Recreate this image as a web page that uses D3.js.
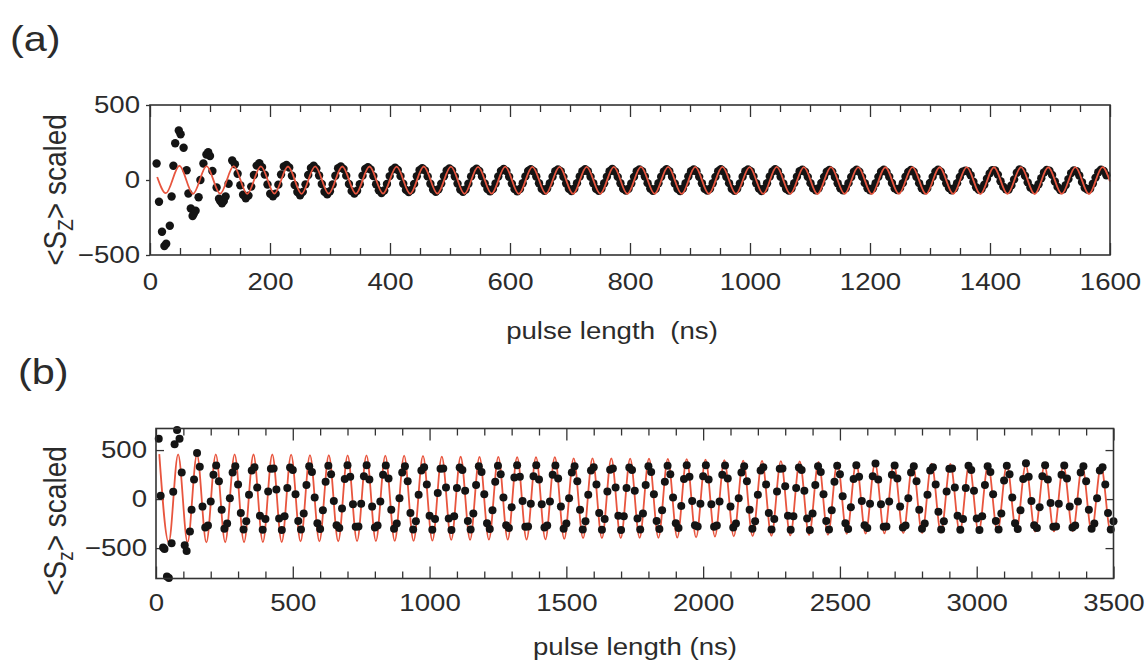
<!DOCTYPE html>
<html>
<head>
<meta charset="utf-8">
<title>Rabi oscillations</title>
<script src="https://cdn.jsdelivr.net/npm/d3@7"></script>
<style>
  body { margin: 0; background: #fff; }
  svg { display: block; }
  .lbl { font-family: "Liberation Sans", Arial, Helvetica, sans-serif; fill: #2b2b2b; }
</style>
</head>
<body>
<svg id="fig" width="1146" height="667"></svg>
<script>
// ---------- panel (a) ----------
const xTicksA = [0, 200, 400, 600, 800, 1000, 1200, 1400, 1600];
const yTicksA = [-500, 0, 500];

// first scattered points (ns, value)
const earlyTA = [11, 15, 20, 24, 27, 33, 36, 39, 42, 48, 51, 56, 61, 64, 68, 71, 73, 76, 81, 84,
                 89, 94, 97, 100, 104, 111, 115, 117, 120, 123, 126, 131];
const earlyVA = [110, -145, -345, -440, -425, -305, -110, 95, 245, 330, 305, 215, 65, -90, -190, -240, -225, -205, -115, 0,
                 110, 170, 185, 160, 60, -50, -125, -140, -155, -140, -110, -25];

// evenly sampled points after that
const dotsStartA = 137, dotsStepA = 4.525;
const dotsA = [
  130, 105, 42, -35, -98, -122, -104, -44, 33, 96,
  112, 86, 36, -30, -92, -108, -91, -31, 37, 90,
  101, 83, 28, -33, -80, -102, -79, -29, 33, 80,
  96, 76, 30, -27, -78, -96, -75, -30, 28, 78,
  90, 73, 29, -27, -74, -90, -72, -28, 29, 73,
  86, 70, 26, -28, -69, -87, -70, -27, 26, 69,
  82, 67, 26, -25, -66, -81, -67, -26, 25, 66,
  78, 64, 24, -25, -63, -79, -62, -24, 25, 63,
  77, 63, 23, -24, -64, -78, -63, -25, 24, 62,
  75, 61, 24, -23, -60, -76, -61, -23, 23, 61,
  74, 60, 22, -24, -61, -75, -60, -22, 24, 60,
  72, 58, 23, -22, -59, -72, -57, -22, 22, 59,
  71, 59, 21, -23, -58, -73, -58, -21, 23, 58,
  72, 58, 22, -22, -58, -72, -59, -22, 22, 58,
  73, 57, 21, -22, -59, -71, -58, -23, 21, 59,
  71, 58, 23, -21, -57, -72, -58, -22, 22, 57,
  72, 59, 22, -23, -58, -73, -57, -21, 23, 58,
  70, 58, 21, -22, -59, -71, -58, -22, 21, 59,
  72, 57, 22, -21, -58, -72, -59, -23, 22, 58,
  71, 58, 23, -22, -57, -73, -58, -22, 23, 57,
  72, 59, 22, -23, -58, -71, -57, -21, 22, 58,
  68, 55, 21, -21, -56, -68, -55, -20, 21, 55,
  67, 56, 20, -22, -55, -69, -56, -21, 20, 56,
  68, 55, 21, -21, -55, -68, -55, -22, 21, 55,
  69, 54, 22, -20, -56, -67, -54, -21, 22, 54,
  67, 55, 21, -21, -55, -68, -56, -20, 21, 56,
  68, 56, 20, -22, -54, -69, -55, -21, 20, 55,
  62, 58, 32, -12, -48, -66, -60, -32, 8, 44,
  66, 64, 36, -8, -44, -62, -64, -36, 4, 48,
  70, 60, 28, -16, -50, -64, -56, -28, 12, 50,
  67, 62, 34, -10, -46, -67, -62, -34, 6, 46,
  64, 58, 30, -14, -52, -64, -58, -24, 16, 52,
  68, 61, 32
];

// fit curve: start point, successive extrema (every half period), end point
const fitStartA = [12, 20], fitEndA = [1600, -10];
const fitT0A = 26.4, fitHalfA = 22.625;
const fitExtA = [
  -88, 95, -92, 93, -91, 92, -92, 91, -91, 90,
  -92, 91, -91, 90, -92, 90, -91, 89, -92, 90,
  -91, 89, -92, 88, -91, 89, -93, 88, -92, 88,
  -93, 88, -92, 87, -93, 88, -92, 87, -93, 87,
  -92, 87, -93, 86, -93, 87, -93, 86, -94, 86,
  -93, 86, -94, 85, -93, 86, -94, 85, -93, 86,
  -94, 85, -93, 86, -94, 85, -93, 86, -94, 86
];

// ---------- panel (b) ----------
const xTicksB = [0, 500, 1000, 1500, 2000, 2500, 3000, 3500];
const yTicksB = [-500, 0, 500];

const earlyTB = [10, 17, 26, 31, 40, 47, 57, 63, 68, 77, 86, 94, 105, 112, 124, 130, 139, 150];
const earlyVB = [615, 35, -495, -510, -790, -805, -450, 75, 560, 705, 615, 270, -470, -530, -330, -110, 200, 470];

const dotsStartB = 160, dotsStepB = 10;
const dotsB = [
  330, -76, -291, -269, -25, 249, 342,
  181, -109, -303, -249, 9, 272, 336,
  149, -141, -310, -227, 44, 292, 326,
  117, -170, -314, -202, 78, 310, 313,
  98, -198, -315, -175, 112, 323, 296,
  50, -223, -311, -146, 144, 334, 276,
  15, -246, -304, -114, 176, 341, 253,
  -20, -266, -294, -95, 205, 345, 228,
  -53, -282, -280, -48, 232, 344, 201,
  -76, -291, -269, -25, 249, 342, 209,
  -109, -303, -249, 9, 272, 336, 181,
  -141, -310, -227, 44, 292, 326, 149,
  -170, -314, -202, 62, 310, 313, 117,
  -198, -315, -175, 112, 323, 296, 84,
  -223, -311, -146, 144, 334, 276, 50,
  -246, -304, -114, 176, 341, 253, 15,
  -266, -294, -82, 220, 345, 228, -20,
  -282, -280, -48, 232, 344, 201, -53,
  -291, -269, -25, 249, 342, 209, -76,
  -303, -249, 9, 272, 336, 181, -109,
  -310, -227, 44, 292, 326, 149, -141,
  -314, -202, 78, 298, 313, 117, -170,
  -315, -175, 112, 323, 296, 84, -198,
  -311, -146, 144, 334, 276, 50, -223,
  -304, -114, 176, 341, 253, 15, -246,
  -294, -70, 205, 345, 228, -20, -266,
  -280, -48, 232, 344, 201, -53, -282,
  -269, -25, 249, 342, 209, -76, -291,
  -249, 9, 272, 336, 181, -109, -303,
  -227, 44, 292, 326, 149, -141, -310,
  -202, 78, 310, 313, 130, -170, -314,
  -175, 112, 323, 296, 84, -198, -315,
  -146, 144, 334, 276, 50, -223, -311,
  -114, 176, 341, 253, 30, -246, -304,
  -82, 205, 345, 228, -20, -266, -294,
  -48, 232, 362, 201, -53, -282, -280,
  -25, 249, 342, 209, -76, -291, -269,
  9, 272, 336, 181, -109, -303, -249,
  44, 292, 326, 149, -128, -310, -227,
  78, 310, 313, 117, -170, -314, -202,
  112, 340, 296, 84, -198, -315, -175,
  144, 334, 276, 50, -223, -311, -146,
  190, 341, 253, 15, -246, -304, -114,
  205, 366, 228, -20, -266, -294, -82,
  232, 344, 201, -40, -282, -280, -48,
  249, 342, 209, -76, -291, -269, -25,
  272, 336, 181, -109, -303, -249, 9,
  292, 326, 149, -141, -310, -227
];

const fitT0B = 12, fitHalfB = 34.425;
const fitExtB = [
  458, -442, 457, -441, 457, -441, 456, -440, 456, -440, 455, -439, 455, -438, 453,
  -432, 448, -431, 447, -430, 446, -429, 445, -428, 444, -427, 443, -426, 441, -424,
  433, -416, 432, -415, 431, -414, 430, -413, 429, -412, 428, -411, 427, -406,
  416, -399, 415, -398, 414, -397, 413, -396, 412, -395, 410, -393, 408, -391, 403,
  -382, 396, -380, 393, -377, 390, -374, 387, -371, 384, -368, 380, -364, 373,
  -354, 369, -352, 367, -350, 365, -348, 363, -346, 361, -343, 358, -340, 356, -337,
  350, -334, 349, -333, 348, -331, 346, -330, 344, -328, 342, -327, 340, -322
];
const fitEndB = [3500, -300];

// ---------- drawing ----------
const svg = d3.select('#fig');
const SX = 1.15; // lettering in the original is a bit wider than Arial

function label(parent, x, y, str, size, anchor) {
  return parent.append('text').attr('class', 'lbl')
    .attr('font-size', size).attr('text-anchor', anchor)
    .style('white-space', 'pre')
    .attr('transform', `translate(${x},${y}) scale(${SX},1)`)
    .text(str);
}

class RabiPanel {
  constructor(o) {
    this.o = o;
  }

  render() {
    const o = this.o;
    const g = svg.append('g');
    const x = d3.scaleLinear().domain(o.xDomain).range([o.left, o.right]);
    const y = d3.scaleLinear().domain(o.yDomain).range([o.bottom, o.top]);

    const minor = d3.range(o.xDomain[0], o.xDomain[1] + 1, o.minorStep)
      .filter(v => !o.xTicks.includes(v));

    const axis = (gen, ty) => g.append('g')
      .attr('transform', `translate(0,${ty})`)
      .attr('color', '#333')
      .call(gen)
      .call(s => s.select('.domain').remove())
      .call(s => s.selectAll('line').attr('stroke-width', 1.3));

    axis(d3.axisBottom(x).tickValues(minor).tickSize(-7).tickFormat(''), o.bottom);
    axis(d3.axisTop(x).tickValues(minor).tickSize(-7).tickFormat(''), o.top);
    axis(d3.axisTop(x).tickValues(o.xTicks).tickSize(-12).tickFormat(''), o.top);
    const bx = axis(d3.axisBottom(x).tickValues(o.xTicks).tickSize(-12).tickFormat(d3.format('d')), o.bottom);
    bx.selectAll('text')
      .attr('class', 'lbl').attr('font-size', 24)
      .attr('y', o.xLabelY - o.bottom).attr('dy', null)
      .attr('transform', `scale(${SX},1)`);

    // y axis
    const ly = g.append('g').attr('transform', `translate(${o.left},0)`).attr('color', '#333')
      .call(d3.axisLeft(y).tickValues(o.yTicks).tickSize(o.yTickLen).tickPadding(o.yPad).tickFormat(d3.format('d')))
      .call(s => s.select('.domain').remove())
      .call(s => s.selectAll('line').attr('stroke-width', 1.3));
    ly.selectAll('text')
      .attr('class', 'lbl').attr('font-size', 24)
      .attr('x', -(Math.max(o.yTickLen, 0) + o.yPad) / SX)
      .attr('transform', `scale(${SX},1)`);
    if (o.yTickLen < 0) {
      g.append('g').attr('transform', `translate(${o.right},0)`).attr('color', '#333')
        .call(d3.axisRight(y).tickValues(o.yTicks).tickSize(o.yTickLen).tickFormat(''))
        .call(s => s.select('.domain').remove())
        .call(s => s.selectAll('line').attr('stroke-width', 1.3));
    }

    // data
    const fit = [o.fitStart, ...o.fitExt.map((v, i) => [o.fitT0 + i * o.fitHalf, v]), o.fitEnd]
      .filter(Boolean);
    const dots = o.earlyT.map((t, i) => [t, o.earlyV[i]])
      .concat(o.dots.map((v, i) => [o.dotsStart + i * o.dotsStep, v]));

    const line = d3.line().x(d => x(d[0])).y(d => y(d[1])).curve(d3.curveMonotoneX);
    const drawFit = () => g.append('path').datum(fit)
      .attr('d', line).attr('fill', 'none')
      .attr('stroke', '#e8553e').attr('stroke-width', 1.8);
    const drawDots = () => g.append('g').selectAll('circle').data(dots).join('circle')
      .attr('cx', d => x(d[0])).attr('cy', d => y(d[1]))
      .attr('r', o.r).attr('fill', '#141414');
    // in (a) the fit sits over the dense dots, in (b) under the dots
    if (o.fitOnTop) { drawDots(); drawFit(); } else { drawFit(); drawDots(); }

    // frame
    g.append('rect')
      .attr('x', o.left).attr('y', o.top)
      .attr('width', o.right - o.left).attr('height', o.bottom - o.top)
      .attr('fill', 'none').attr('stroke', '#333').attr('stroke-width', 1.6);

    // texts
    label(g, o.titleX, o.titleY, o.title, 24, 'middle');
    label(g, o.tagX, o.tagY, o.tag, 36, 'start');

    const yt = g.append('text').attr('class', 'lbl')
      .attr('font-size', 28).attr('text-anchor', 'middle')
      .attr('transform', `translate(${o.yTitleX},${o.yTitleY}) rotate(-90) scale(1,${SX})`);
    yt.append('tspan').text('<S');
    yt.append('tspan').attr('font-size', 19).attr('dy', 6).text(o.sub);
    yt.append('tspan').attr('dy', -6).text('> scaled');
  }
}

const panelA = new RabiPanel({
  xDomain: [0, 1600], yDomain: [-500, 500],
  left: 150, right: 1110, top: 105, bottom: 255,
  xTicks: xTicksA, yTicks: yTicksA, minorStep: 50,
  xLabelY: 290, yTickLen: 4, yPad: 6,
  earlyT: earlyTA, earlyV: earlyVA,
  dots: dotsA, dotsStart: dotsStartA, dotsStep: dotsStepA, r: 4.2,
  fitStart: fitStartA, fitEnd: fitEndA, fitT0: fitT0A, fitHalf: fitHalfA, fitExt: fitExtA,
  fitOnTop: true,
  title: 'pulse length  (ns)', titleX: 612, titleY: 339,
  tag: '(a)', tagX: 10, tagY: 51,
  sub: 'Z', yTitleX: 66, yTitleY: 190
});

const panelB = new RabiPanel({
  xDomain: [0, 3500], yDomain: [-810, 720],
  left: 156, right: 1113.5, top: 428.5, bottom: 578.5,
  xTicks: xTicksB, yTicks: yTicksB, minorStep: 100,
  xLabelY: 611, yTickLen: -8, yPad: 9,
  earlyT: earlyTB, earlyV: earlyVB,
  dots: dotsB, dotsStart: dotsStartB, dotsStep: dotsStepB, r: 4,
  fitStart: null, fitEnd: fitEndB, fitT0: fitT0B, fitHalf: fitHalfB, fitExt: fitExtB,
  fitOnTop: false,
  title: 'pulse length (ns)', titleX: 635, titleY: 655,
  tag: '(b)', tagX: 18, tagY: 384,
  sub: 'z', yTitleX: 66, yTitleY: 521
});

panelA.render();
panelB.render();
</script>
</body>
</html>
